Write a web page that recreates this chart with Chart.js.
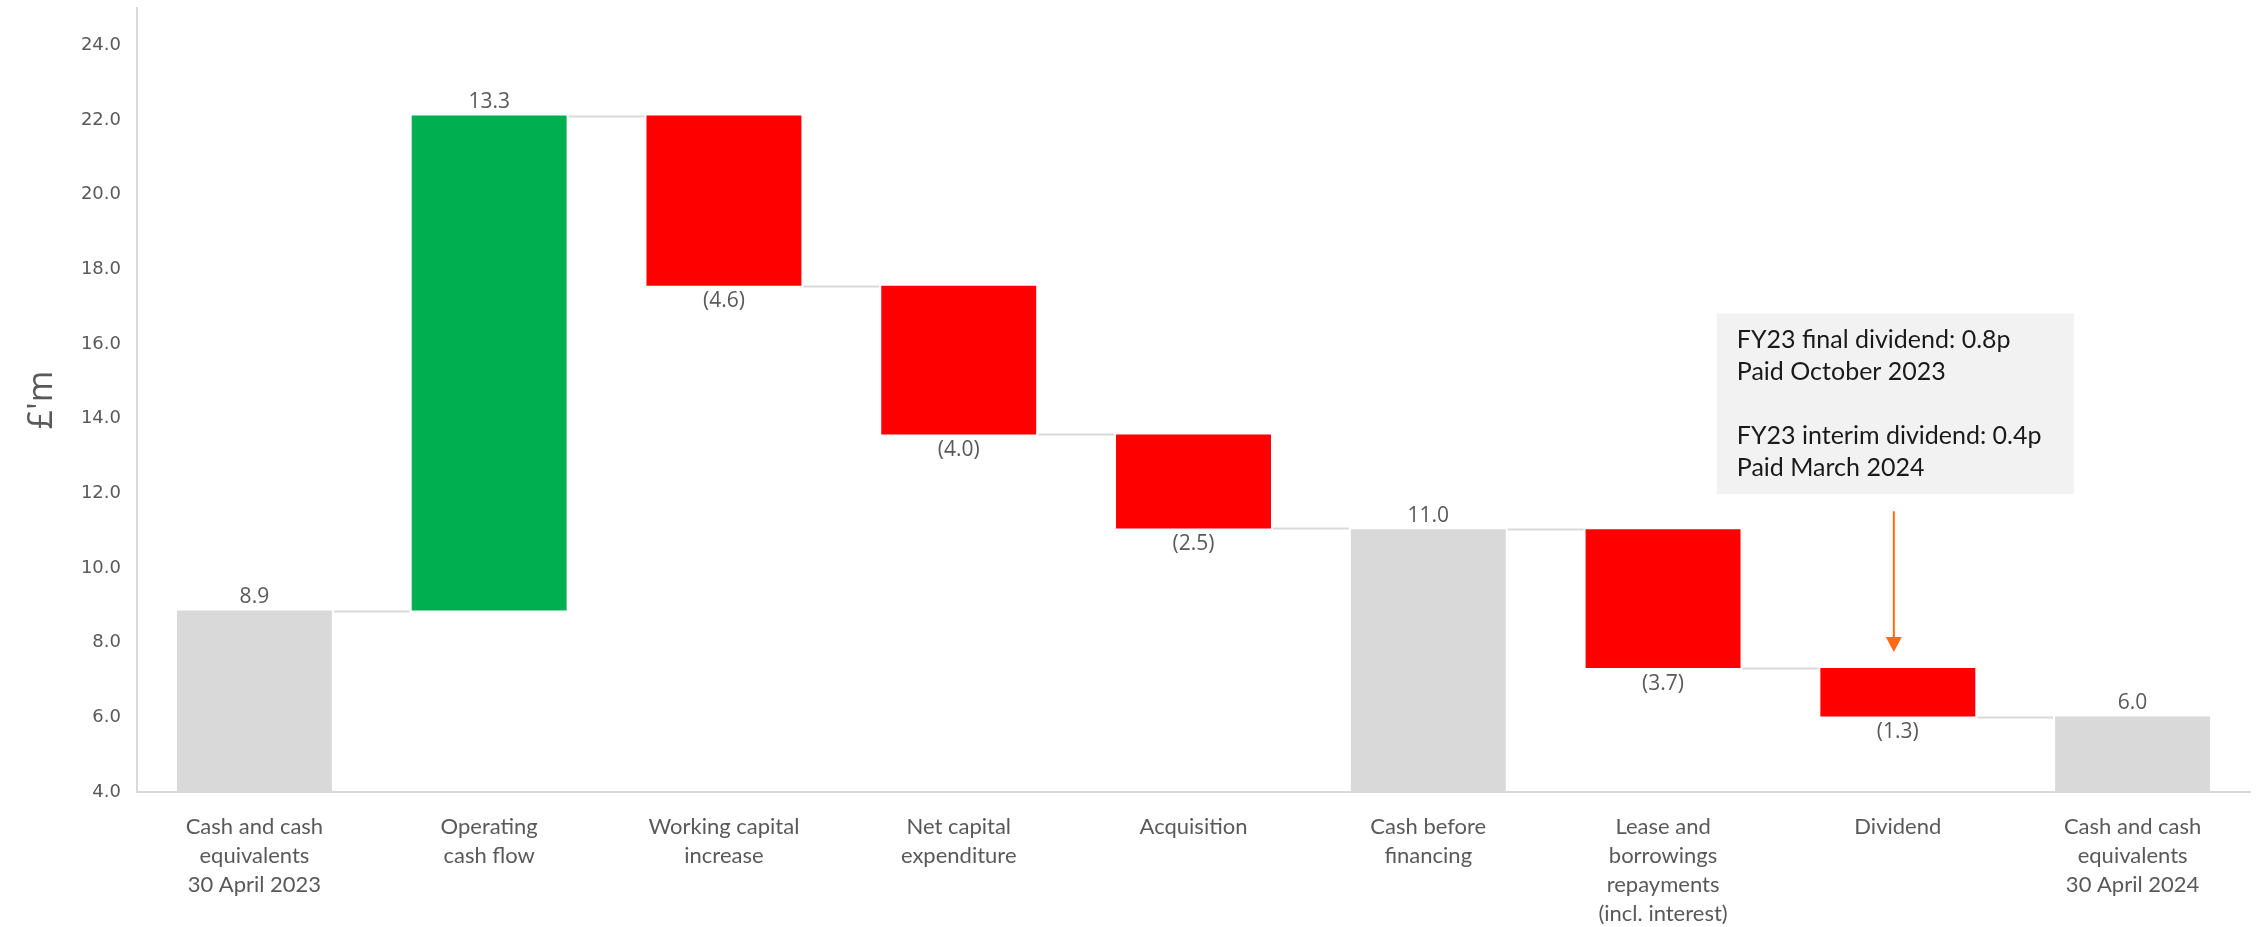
<!DOCTYPE html>
<html>
<head>
<meta charset="utf-8">
<script src="https://cdn.jsdelivr.net/npm/chart.js@4.4.1/dist/chart.umd.min.js"></script>
<style>
  html, body { margin: 0; padding: 0; background: #fff; }
  #wrap { width: 2260px; height: 927px; }
</style>
</head>
<body>
<div id="wrap"><canvas id="cashChart" width="2260" height="927"></canvas></div>
<script>
    const categories = [
      ['Cash and cash', 'equivalents', '30 April 2023'],
      ['Operating', 'cash flow'],
      ['Working capital', 'increase'],
      ['Net capital', 'expenditure'],
      ['Acquisition'],
      ['Cash before', 'financing'],
      ['Lease and', 'borrowings', 'repayments', '(incl. interest)'],
      ['Dividend'],
      ['Cash and cash', 'equivalents', '30 April 2024']
    ];
    // £m (totals are levels, the rest are movements)
    const values = [8.86, 13.26, -4.56, -3.98, -2.52, 11.04, -3.72, -1.30, 6.02];
    const isTotal = [true, false, false, false, false, true, false, false, true];
    const yMin = 4, yMax = 25, yStep = 2;

    const noteLines = [
      'FY23 final dividend: 0.8p',
      'Paid October 2023',
      '',
      'FY23 interim dividend: 0.4p',
      'Paid March 2024'
    ];

    const GREY = '#d9d9d9', GREEN = '#00b050', RED = '#ff0000';
    const TEXT = '#595959';

    // floating bars for the waterfall
    let level = 0;
    const ranges = values.map((v, i) => {
      if (isTotal[i]) { level = v; return [0, v]; }
      const start = level;
      level += v;
      return [start, level];
    });
    const colours = values.map((v, i) => isTotal[i] ? GREY : (v >= 0 ? GREEN : RED));

    function fmt(v, i) {
      if (isTotal[i] || v >= 0) return v.toFixed(1);
      return '(' + Math.abs(v).toFixed(1) + ')';
    }

    const waterfallExtras = {
      id: 'waterfallExtras',
      afterDatasetsDraw(chart) {
        const ctx = chart.ctx;
        const bars = chart.getDatasetMeta(0).data;
        const y = chart.scales.y, x = chart.scales.x;

        // connector lines between bars
        ctx.save();
        ctx.strokeStyle = GREY;
        ctx.lineWidth = 2;
        for (let i = 0; i < bars.length - 1; i++) {
          const a = bars[i].getProps(['x', 'width'], true);
          const b = bars[i + 1].getProps(['x', 'width'], true);
          const py = Math.round(y.getPixelForValue(ranges[i][1])) + 0.5;
          ctx.beginPath();
          ctx.moveTo(a.x + a.width / 2 + 2, py);
          ctx.lineTo(b.x - b.width / 2 - 2, py);
          ctx.stroke();
        }

        // value labels
        ctx.fillStyle = TEXT;
        ctx.font = '21px "Open Sans"';
        ctx.textAlign = 'center';
        bars.forEach((bar, i) => {
          const p = bar.getProps(['x', 'y', 'base'], true);
          const top = Math.min(p.y, p.base), bottom = Math.max(p.y, p.base);
          if (isTotal[i] || values[i] >= 0) {
            ctx.textBaseline = 'bottom';
            ctx.fillText(fmt(values[i], i), p.x, top - 3);
          } else {
            ctx.textBaseline = 'top';
            ctx.fillText(fmt(values[i], i), p.x, bottom + 5);
          }
        });

        // dividend note box + arrow
        const cx = x.getPixelForValue(7);
        const boxL = cx - 181, boxR = cx + 176;
        const boxT = y.getPixelForValue(16.82), boxB = y.getPixelForValue(11.98);
        ctx.fillStyle = '#f2f2f2';
        ctx.fillRect(boxL, boxT, boxR - boxL, boxB - boxT);
        ctx.fillStyle = '#1a1a1a';
        ctx.font = '25px Lato';
        ctx.textAlign = 'left';
        ctx.textBaseline = 'alphabetic';
        noteLines.forEach((t, k) => ctx.fillText(t, boxL + 20, boxT + 35 + k * 32));

        const ax = cx - 4;
        const a0 = y.getPixelForValue(11.52), a1 = y.getPixelForValue(7.75);
        ctx.strokeStyle = '#ff6a13';
        ctx.fillStyle = '#ff6a13';
        ctx.lineWidth = 2;
        ctx.beginPath();
        ctx.moveTo(ax, a0);
        ctx.lineTo(ax, a1 - 12);
        ctx.stroke();
        ctx.beginPath();
        ctx.moveTo(ax - 8, a1 - 15);
        ctx.lineTo(ax + 8, a1 - 15);
        ctx.lineTo(ax, a1);
        ctx.closePath();
        ctx.fill();
        ctx.restore();
      }
    };

    const ctx = document.getElementById('cashChart').getContext('2d');
    const cashChart = new Chart(ctx, {
      type: 'bar',
      data: {
        labels: categories,
        datasets: [{
          data: ranges,
          backgroundColor: colours,
          borderWidth: 0,
          categoryPercentage: 1,
          barPercentage: 0.66
        }]
      },
      options: {
        responsive: false,
        animation: false,
        layout: { padding: { top: 0, right: 10, left: 0, bottom: 0 } },
        plugins: {
          legend: { display: false },
          tooltip: { enabled: false }
        },
        scales: {
          x: {
            grid: { display: false, drawTicks: false },
            border: { color: GREY, width: 2 },
            ticks: {
              color: TEXT,
              padding: 20,
              maxRotation: 0,
              autoSkip: false,
              font: { family: 'Lato', size: 22, lineHeight: 1.32 }
            },
            afterFit(scale) { scale.height = 135; }
          },
          y: {
            min: yMin,
            max: yMax,
            // tick marks hidden, their length only spaces the labels from the axis
            grid: { display: false, drawTicks: true, tickLength: 16 },
            border: { color: GREY, width: 2 },
            ticks: {
              stepSize: yStep,
              color: TEXT,
              padding: 0,
              font: { family: 'DejaVu Sans', size: 18, lineHeight: 0.9 },
              callback: v => (v === yMax ? '' : v.toFixed(1))
            },
            title: {
              display: true,
              text: "£'m",
              color: TEXT,
              font: { family: 'Open Sans', size: 34 },
              padding: { top: 22, bottom: 0 }
            },
            afterFit(scale) { scale.width = 137; }
          }
        }
      },
      plugins: [waterfallExtras]
    });
</script>
</body>
</html>
